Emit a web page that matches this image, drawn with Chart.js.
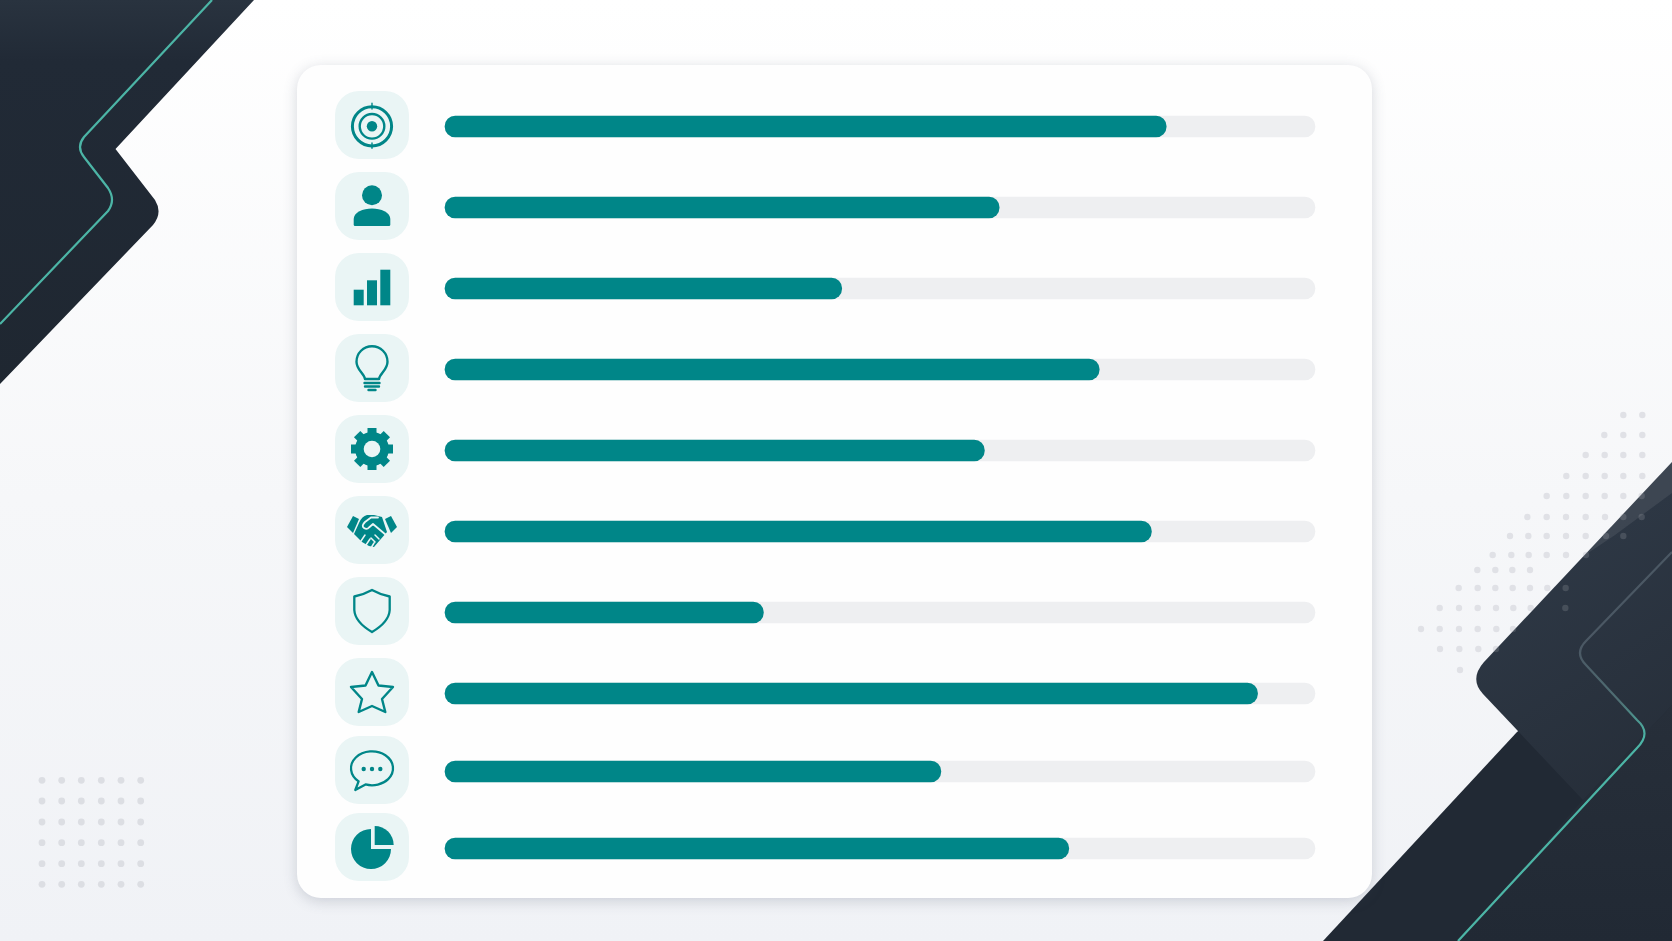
<!DOCTYPE html>
<html>
<head>
<meta charset="utf-8">
<title>Progress rows</title>
<script src="https://cdn.jsdelivr.net/npm/chart.js@4/dist/chart.umd.min.js"></script>
<style>
html, body { margin: 0; height: 100%; overflow: hidden; }
body { position: relative; width: 1672px; height: 941px; background: linear-gradient(180deg, #ffffff 0%, #f6f7f9 53%, #f0f2f6 100%); }
#bg { position: absolute; left: 0; top: 0; }
#panel { position: absolute; left: 297px; top: 65px; width: 1075px; height: 833px; background: #fefefe; border-radius: 24px; box-shadow: 0 3px 14px rgba(70,78,100,.22); }
canvas { position: absolute; left: 0; }
#chartTop { top: 86px; }
#chartBottom { top: 733px; }
</style>
</head>
<body>
<svg id="bg" width="1672" height="941" xmlns="http://www.w3.org/2000/svg">
  <defs>
    <linearGradient id="darkLeft" x1="0" y1="0" x2="0" y2="1">
      <stop offset="0" stop-color="#29333f"/><stop offset="0.16" stop-color="#212a36"/><stop offset="1" stop-color="#1f2731"/>
    </linearGradient>
    <linearGradient id="upperRight" gradientUnits="userSpaceOnUse" x1="1500" y1="600" x2="1630" y2="800">
      <stop offset="0" stop-color="#2d3744"/><stop offset="1" stop-color="#262e39"/>
    </linearGradient>
    <linearGradient id="lowerRight" gradientUnits="userSpaceOnUse" x1="1672" y1="700" x2="1672" y2="941">
      <stop offset="0" stop-color="#272f3a"/><stop offset="1" stop-color="#212934"/>
    </linearGradient>
    <linearGradient id="lineRight" gradientUnits="userSpaceOnUse" x1="1590" y1="640" x2="1650" y2="735">
      <stop offset="0" stop-color="#4b5864"/><stop offset="0.6" stop-color="#4f6f74"/><stop offset="1" stop-color="#4cb5a6"/>
    </linearGradient>
    <clipPath id="upperClip"><path d="M1672,462 L1484,662 Q1469,679 1483,694 L1583,800 L1672,705 Z"/></clipPath>
  </defs>
  <g id="dots"></g>
  <path fill="url(#darkLeft)" d="M0,0 L254,0 L115.5,149 L155,200 Q163,213 153,225 L0,384 Z"/>
  <path fill="none" stroke="#4cb5a6" stroke-width="2.2" d="M212,0 L84,137 Q76,147 84,157 L108,188 Q116,200 108,211 L0,324"/>
  <path fill="#212934" d="M1323,941 L1517,732 L1640,640 L1672,640 L1672,941 Z"/>
  <path fill="url(#upperRight)" d="M1672,462 L1484,662 Q1469,679 1483,694 L1583,800 L1672,705 Z"/>
  <path fill="url(#lowerRight)" d="M1583,800 L1672,705 L1672,941 L1458,941 Z"/>
  <path fill="#ffffff" opacity="0.08" d="M1672,462 L1585,555 L1615,535 L1672,493 Z"/>
  <g id="dotsOver" clip-path="url(#upperClip)"></g>
  <path fill="none" stroke="url(#lineRight)" stroke-width="2.2" d="M1458,941 L1637,748 Q1652,733 1637,720 L1586,665 Q1574,653 1586,641 L1672,552"/>
</svg>
<div id="panel"></div>
<canvas id="chartTop" width="1672" height="648"></canvas>
<canvas id="chartBottom" width="1672" height="154"></canvas>
<script>
var rowNames = ['target', 'person', 'bars', 'bulb', 'gear', 'handshake', 'shield', 'star', 'chat', 'pie'];
var progressValues = [82.9, 63.7, 45.6, 75.2, 62, 81.2, 36.6, 93.4, 57, 71.7];
var trackValues = [100, 100, 100, 100, 100, 100, 100, 100, 100, 100];

var teal = '#008688';
var tileColor = '#eaf5f5';
var trackColor = '#eeeff1';

// background dots, decoration only
function addDot(group, x, y, r, fill) {
    var c = document.createElementNS('http://www.w3.org/2000/svg', 'circle');
    c.setAttribute('cx', x);
    c.setAttribute('cy', y);
    c.setAttribute('r', r);
    c.setAttribute('fill', fill);
    group.appendChild(c);
}

var dots = document.getElementById('dots');
var dotsOver = document.getElementById('dotsOver');
[42, 61.7, 81.3, 101.3, 121, 140.7].forEach(function (x) {
    [780.3, 801, 822, 842.7, 863.7, 884.3].forEach(function (y) {
        addDot(dots, x, y, 3.4, '#dcdee3');
    });
});

var rightDots = [
    [415, [640, 697]],
    [435, [583, 640, 697]],
    [455, [527, 584, 640, 697]],
    [476, [469, 527, 584, 640, 697]],
    [496, [410, 469, 527, 584, 640, 695]],
    [517, [352, 410, 468, 527, 585, 640, 695]],
    [536, [300, 355, 410, 468, 527, 588, 640]],
    [555, [248, 304, 356, 410, 468, 528]],
    [570, [202, 256, 307, 360]],
    [588, [146, 203, 256, 308, 360, 412, 467]],
    [608, [89, 147, 203, 258, 310, 362, 466]],
    [629, [33, 89, 147, 203, 259, 309]],
    [649, [90, 148, 205, 258]],
    [670, [150]]
];
rightDots.forEach(function (row) {
    row[1].forEach(function (zx) {
        var x = 1410 + zx / 3;
        addDot(dots, x, row[0], 3.2, '#e0e1e6');
        addDot(dotsOver, x, row[0], 3.2, 'rgba(255,255,255,.13)');
    });
});

function strokeIcon(ctx, width) {
    ctx.strokeStyle = teal;
    ctx.lineWidth = width;
    ctx.lineJoin = 'round';
    ctx.lineCap = 'round';
}

function circle(ctx, x, y, r) {
    ctx.beginPath();
    ctx.arc(x, y, r, 0, Math.PI * 2);
}

// icons are drawn around the tile centre
var iconDrawers = {
    target: function (ctx) {
        strokeIcon(ctx, 3);
        circle(ctx, 0, 1.3, 19.6); ctx.stroke();
        ctx.lineWidth = 2.4;
        circle(ctx, 0, 1.3, 12.3); ctx.stroke();
        circle(ctx, 0, 1.3, 5.2); ctx.fill();
        ctx.lineWidth = 1.4;
        ctx.beginPath();
        ctx.moveTo(0, -21.7); ctx.lineTo(0, -16);
        ctx.moveTo(0, 18); ctx.lineTo(0, 23.3);
        ctx.stroke();
    },
    person: function (ctx) {
        circle(ctx, 0, -10.7, 10); ctx.fill();
        ctx.beginPath();
        ctx.moveTo(-18.3, 18.5);
        ctx.lineTo(-18.3, 13);
        ctx.bezierCurveTo(-18.3, 6, -9, 2.4, 0, 2.4);
        ctx.bezierCurveTo(9, 2.4, 18.3, 6, 18.3, 13);
        ctx.lineTo(18.3, 18.5);
        ctx.quadraticCurveTo(18.3, 20, 17, 20);
        ctx.lineTo(-17, 20);
        ctx.quadraticCurveTo(-18.3, 20, -18.3, 18.5);
        ctx.fill();
    },
    bars: function (ctx) {
        ctx.fillRect(-18.3, 2.7, 10, 15.6);
        ctx.fillRect(-5, -6.7, 10, 25);
        ctx.fillRect(8.3, -17.3, 10, 35.6);
    },
    bulb: function (ctx) {
        strokeIcon(ctx, 2.4);
        ctx.beginPath();
        ctx.moveTo(-7, 11);
        ctx.bezierCurveTo(-8, 5, -15.5, 2, -15.5, -6.3);
        ctx.arc(0, -6.3, 15.5, Math.PI, 0);
        ctx.bezierCurveTo(15.5, 2, 8, 5, 7, 11);
        ctx.closePath();
        ctx.stroke();
        ctx.beginPath();
        ctx.moveTo(-7.5, 15); ctx.lineTo(7.5, 15);
        ctx.moveTo(-7, 18.5); ctx.lineTo(7, 18.5);
        ctx.moveTo(-3.5, 22); ctx.lineTo(3.5, 22);
        ctx.stroke();
    },
    gear: function (ctx) {
        circle(ctx, 0, 0, 17); ctx.fill();
        for (var i = 0; i < 8; i++) {
            ctx.save();
            ctx.rotate(i * Math.PI / 4);
            ctx.fillRect(-4.5, -21, 9, 8);
            ctx.restore();
        }
        ctx.fillStyle = tileColor;
        circle(ctx, 0, 0, 8.3); ctx.fill();
    },
    handshake: function (ctx) {
        ctx.beginPath();
        ctx.moveTo(-25, -3); ctx.lineTo(-19, -14); ctx.lineTo(-13, -11); ctx.lineTo(-19, 3);
        ctx.closePath(); ctx.fill();
        ctx.beginPath();
        ctx.moveTo(25, -3); ctx.lineTo(19, -14); ctx.lineTo(13, -11); ctx.lineTo(19, 3);
        ctx.closePath(); ctx.fill();
        ctx.beginPath();
        ctx.moveTo(-13, -7);
        ctx.quadraticCurveTo(-10, -14, -5, -15);
        ctx.lineTo(2, -15);
        ctx.lineTo(10, -13);
        ctx.lineTo(15, 2);
        ctx.lineTo(8, 10);
        ctx.lineTo(2, 17);
        ctx.lineTo(-3, 16);
        ctx.lineTo(-10, 12);
        ctx.lineTo(-18, 4);
        ctx.closePath();
        ctx.fill();
        ctx.strokeStyle = tileColor;
        ctx.lineCap = 'round';
        ctx.lineJoin = 'round';
        ctx.lineWidth = 1.8;
        ctx.beginPath();
        ctx.moveTo(6, -12.5);
        ctx.lineTo(-1, -12.5);
        ctx.lineTo(-7, -8);
        ctx.quadraticCurveTo(-11, -4, -8, -2);
        ctx.quadraticCurveTo(-5, 0, -3, -2.5);
        ctx.lineTo(1, -6);
        ctx.lineTo(14, 5);
        ctx.stroke();
        ctx.lineWidth = 1.5;
        ctx.beginPath();
        ctx.moveTo(-11, 11); ctx.lineTo(-7, 5);
        ctx.moveTo(-6, 15); ctx.lineTo(-2, 9);
        ctx.moveTo(-1, 18); ctx.lineTo(2, 13);
        ctx.moveTo(3, 12); ctx.lineTo(-1, 8);
        ctx.moveTo(7, 9); ctx.lineTo(3, 5);
        ctx.stroke();
    },
    shield: function (ctx) {
        strokeIcon(ctx, 2.3);
        ctx.beginPath();
        ctx.moveTo(0, -21);
        ctx.quadraticCurveTo(-8, -16.5, -17.7, -14.5);
        ctx.lineTo(-17.7, -1);
        ctx.quadraticCurveTo(-17, 11, 0, 21);
        ctx.quadraticCurveTo(17, 11, 17.7, -1);
        ctx.lineTo(17.7, -14.5);
        ctx.quadraticCurveTo(8, -16.5, 0, -21);
        ctx.closePath();
        ctx.stroke();
    },
    star: function (ctx) {
        strokeIcon(ctx, 2.4);
        ctx.beginPath();
        ctx.moveTo(0, -20);
        ctx.lineTo(6.5, -6.5);
        ctx.lineTo(21, -5);
        ctx.lineTo(10, 7);
        ctx.lineTo(13.3, 20);
        ctx.lineTo(0, 14);
        ctx.lineTo(-13.3, 20);
        ctx.lineTo(-10, 7);
        ctx.lineTo(-21, -5);
        ctx.lineTo(-6.5, -6.5);
        ctx.closePath();
        ctx.stroke();
    },
    chat: function (ctx) {
        strokeIcon(ctx, 2.3);
        ctx.beginPath();
        ctx.ellipse(0, -1.7, 21, 17, 0, 0.72 * Math.PI, 0.6 * Math.PI);
        ctx.lineTo(-16.7, 20);
        ctx.lineTo(-13.4, 11.4);
        ctx.stroke();
        [-8.3, 0, 8.3].forEach(function (x) {
            circle(ctx, x, -1, 2.2); ctx.fill();
        });
    },
    pie: function (ctx) {
        ctx.beginPath();
        ctx.moveTo(-1, 2);
        ctx.lineTo(-1, -18);
        ctx.arc(-1, 2, 20, -Math.PI / 2, 0, true);
        ctx.closePath();
        ctx.fill();
        ctx.beginPath();
        ctx.moveTo(2.7, -2);
        ctx.lineTo(2.7, -21);
        ctx.arc(2.7, -2, 19, -Math.PI / 2, 0);
        ctx.closePath();
        ctx.fill();
    }
};

// tiles and icons follow the row positions of the y scale
var rowIcons = {
    id: 'rowIcons',
    afterDraw: function (chart) {
        var ctx = chart.ctx;
        var yScale = chart.scales.y;
        chart.data.labels.forEach(function (name, i) {
            var cy = yScale.getPixelForValue(i) - 1.5;
            ctx.save();
            ctx.fillStyle = tileColor;
            ctx.beginPath();
            ctx.roundRect(335, cy - 34, 74, 68, 24);
            ctx.fill();
            ctx.translate(372, cy);
            ctx.fillStyle = teal;
            iconDrawers[name](ctx);
            ctx.restore();
        });
    }
};

function makeRows(canvasId, start, end) {
    var ctx = document.getElementById(canvasId).getContext('2d');
    return new Chart(ctx, {
        type: 'bar',
        data: {
            labels: rowNames.slice(start, end),
            datasets: [{
                label: 'progress',
                data: progressValues.slice(start, end),
                backgroundColor: teal,
                order: 1,
                grouped: false,
                clip: false
            }, {
                label: 'track',
                data: trackValues.slice(start, end),
                backgroundColor: trackColor,
                order: 2,
                grouped: false,
                clip: false
            }]
        },
        options: {
            indexAxis: 'y',
            responsive: false,
            animation: false,
            barThickness: 21,
            borderRadius: { topLeft: 11, topRight: 11, bottomLeft: 11, bottomRight: 11 },
            borderSkipped: false,
            layout: { padding: { left: 445, right: 357, top: 0, bottom: 0 } },
            scales: {
                x: { display: false, min: 0, max: 100 },
                y: { display: false }
            },
            plugins: {
                legend: { display: false },
                tooltip: { enabled: false }
            }
        },
        plugins: [rowIcons]
    });
}

// the last two rows sit a little closer together, so they get their own chart
var chartTop = makeRows('chartTop', 0, 8);
var chartBottom = makeRows('chartBottom', 8, 10);
</script>
</body>
</html>
